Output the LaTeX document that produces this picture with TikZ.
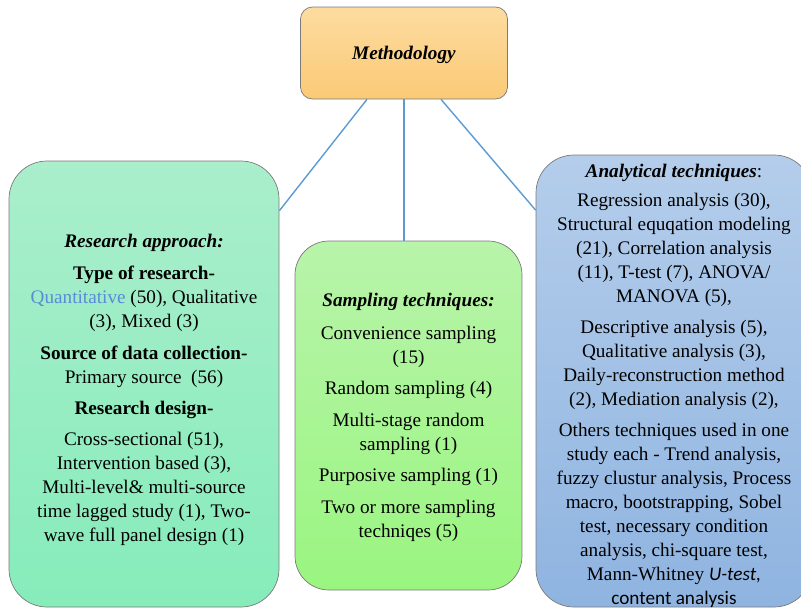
\documentclass[tikz,border=0pt]{standalone}
\usepackage{fontspec}
\setmainfont{Liberation Serif}
\setsansfont{Carlito}
\usepackage{xcolor}
\usetikzlibrary{positioning}
\definecolor{linkblue}{HTML}{5B9BD5}
\definecolor{quantblue}{HTML}{5A8AD8}
\definecolor{edgegray}{HTML}{7A7A7A}

\begin{document}
\begin{tikzpicture}[
  x=1pt, y=-1pt,
  box/.style={rectangle, draw=edgegray, line width=0.7pt, rounded corners=38pt},
  info/.style={align=center, inner sep=0pt, font=\fontsize{19.2}{24}\selectfont},
  link/.style={draw=linkblue, line width=1.4pt}
]
\useasboundingbox (0,0) rectangle (801,608);

\node[box, rounded corners=12pt, minimum width=207pt, minimum height=92pt, text depth=0pt,
  top color={rgb,255:red,253;green,219;blue,160}, bottom color={rgb,255:red,250;green,202;blue,118}]
  (meth) at (404,53) {\fontsize{19.2}{24}\selectfont\textbf{\textit{Methodology}}};

\node[box, minimum width=270pt, minimum height=446pt,
  top color={rgb,255:red,170;green,238;blue,204}, bottom color={rgb,255:red,134;green,236;blue,186}]
  (appr) at (144,384) {};
\node[box, rounded corners=34pt, minimum width=227pt, minimum height=349pt,
  top color={rgb,255:red,184;green,244;blue,170}, bottom color={rgb,255:red,154;green,245;blue,128}]
  (samp) at (408.5,415.5) {};
\node[box, minimum width=276pt, minimum height=452pt,
  top color={rgb,255:red,180;green,205;blue,235}, bottom color={rgb,255:red,143;green,180;blue,224}]
  (anal) at (674,381) {};

\node[info, anchor=north] (apprtext) at (144,234) {%
  \textbf{\textit{Research approach:}}\\[8pt]
  \textbf{Type of research-}\\
  {\color{quantblue}Quantitative} (50), Qualitative\\
  (3), Mixed (3)\\[8pt]
  \textbf{Source of data collection-}\\
  Primary source\ \ (56)\\[7pt]
  \textbf{Research design-}\\[7pt]
  Cross-sectional (51),\\
  Intervention based (3),\\
  Multi-level\& multi-source\\
  time lagged study (1), Two-\\
  wave full panel design (1)};

\node[info, anchor=north] (samptext) at (408.5,293) {%
  \textbf{\textit{Sampling techniques:}}\\[9pt]
  Convenience sampling\\
  (15)\\[7pt]
  Random sampling (4)\\[8pt]
  Multi-stage random\\
  sampling (1)\\[7pt]
  Purposive sampling (1)\\[8pt]
  Two or more sampling\\
  techniqes (5)};

\node[info, anchor=north] (analtext) at (674,164) {%
  \textbf{\textit{Analytical techniques}}:\\[5pt]
  Regression analysis (30),\\
  Structural equqation modeling\\
  (21), Correlation analysis\\
  (11), T-test (7), ANOVA/\\
  MANOVA (5),\\[7pt]
  Descriptive analysis (5),\\
  Qualitative analysis (3),\\
  Daily-reconstruction method\\
  (2), Mediation analysis (2),\\[7pt]
  Others techniques used in one\\
  study each - Trend analysis,\\
  fuzzy clustur analysis, Process\\
  macro, bootstrapping, Sobel\\
  test, necessary condition\\
  analysis, chi-square test,\\
  Mann-Whitney {\sffamily\itshape U-test,}\\
  {\sffamily content analysis}};

\draw[link] ([xshift=-37pt]meth.south) -- (appr.52);
\draw[link] (meth.south) -- (meth.south |- samp.north);
\draw[link] ([xshift=37pt]meth.south) -- (anal.129);

\end{tikzpicture}
\end{document}
